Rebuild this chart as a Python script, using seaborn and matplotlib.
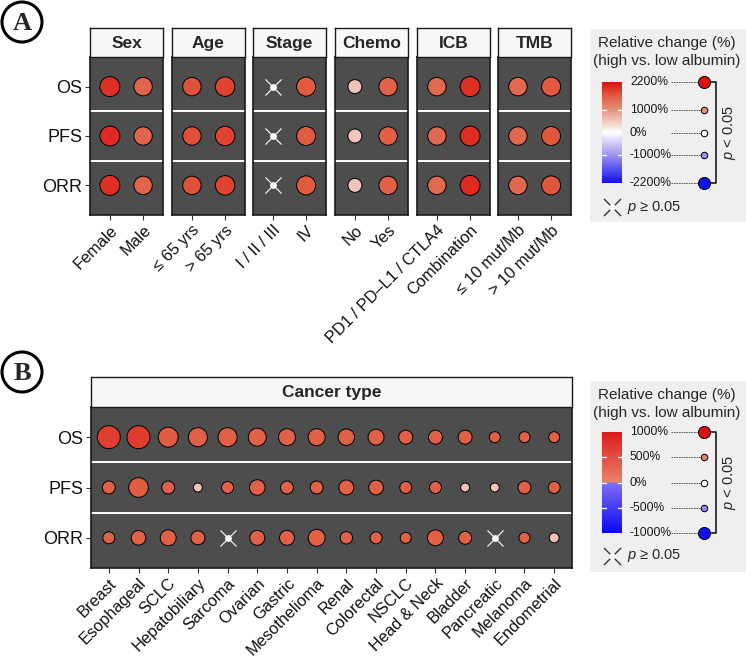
import numpy as np
import pandas as pd
import matplotlib
matplotlib.use("Agg")
import matplotlib.pyplot as plt
import seaborn as sns
from matplotlib.colors import LinearSegmentedColormap
from matplotlib.patches import Rectangle, Circle

sns.set_theme(style="white")
plt.rcParams["font.family"] = ["Liberation Sans", "DejaVu Sans"]
plt.rcParams["mathtext.fontset"] = "custom"
plt.rcParams["mathtext.it"] = "Liberation Sans:italic"
plt.rcParams["mathtext.rm"] = "Liberation Sans"

W, H = 746, 657

outcomes = ["OS", "PFS", "ORR"]

# ---- Panel A: subgroups ----
facets_a = ["Sex", "Age", "Stage", "Chemo", "ICB", "TMB"]
groups_a = [
    ["Female", "Male"],
    ["≤ 65 yrs", "> 65 yrs"],
    ["I / II / III", "IV"],
    ["No", "Yes"],
    ["PD1 / PD–L1 / CTLA4", "Combination"],
    ["≤ 10 mut/Mb", "> 10 mut/Mb"],
]
# relative change (%), nan = not significant (p >= 0.05)
change_a_os = [1950, 1500, 1700, 1790, np.nan, 1630, 540, 1520, 1450, 1950, 1450, 1630]
change_a_pfs = [1980, 1500, 1700, 1800, np.nan, 1630, 520, 1550, 1460, 1960, 1470, 1640]
change_a_orr = [1950, 1500, 1700, 1800, np.nan, 1630, 520, 1550, 1460, 1990, 1470, 1640]
# significance weight (-log10 p, capped at 10)
signif_a_os = [6.9, 5.9, 5.9, 6.6, np.nan, 6.3, 3.4, 5.9, 5.9, 6.9, 5.9, 6.3]
signif_a_pfs = [6.9, 5.9, 5.9, 6.6, np.nan, 6.3, 3.4, 5.9, 5.9, 6.9, 5.9, 6.3]
signif_a_orr = [6.9, 5.9, 5.9, 6.6, np.nan, 6.3, 3.4, 5.9, 5.9, 6.9, 5.9, 6.3]

# ---- Panel B: cancer types ----
cancers = ["Breast", "Esophageal", "SCLC", "Hepatobiliary", "Sarcoma", "Ovarian",
           "Gastric", "Mesothelioma", "Renal", "Colorectal", "NSCLC", "Head & Neck",
           "Bladder", "Pancreatic", "Melanoma", "Endometrial"]
change_b_os = [830, 840, 720, 710, 710, 700, 700, 700, 700, 700, 700, 700, 700, 700, 700, 700]
change_b_pfs = [700, 720, 700, 250, 700, 710, 700, 700, 710, 710, 700, 700, 250, 240, 700, 700]
change_b_orr = [700, 710, 710, 700, np.nan, 700, 710, 710, 700, 700, 700, 710, 700, np.nan, 700, 250]
signif_b_os = [9.2, 9.2, 6.9, 6.3, 6.3, 5.6, 5.0, 5.0, 4.7, 4.4, 3.4, 3.4, 3.4, 2.1, 2.1, 2.1]
signif_b_pfs = [2.9, 6.7, 2.9, 1.4, 2.5, 4.2, 2.9, 2.9, 3.9, 3.7, 2.5, 2.5, 1.4, 1.4, 2.9, 2.5]
signif_b_orr = [2.5, 3.7, 4.4, 3.4, np.nan, 3.9, 3.9, 5.0, 2.7, 2.5, 2.1, 4.4, 2.9, np.nan, 2.1, 1.7]

# legend levels
levels_a = [2200, 1000, 0, -1000, -2200]
levels_b = [1000, 500, 0, -500, -1000]

dot_cmap = LinearSegmentedColormap.from_list(
    "relchange", [(0.0, "#1010F0"), (0.27, "#9A90F0"), (0.5, "#FFFFFF"),
                  (0.73, "#E5907A"), (0.87, "#E05A40"), (1.0, "#DD0F0F")])
bar_cmap_b = LinearSegmentedColormap.from_list(
    "relchange_b", [(0.0, "#0808F5"), (0.499, "#8070F5"), (0.501, "#E8846C"),
                    (1.0, "#DE1A1A")])

PANEL_BG = "#4D4D4D"
S_MAX = (24 * 0.72) ** 2

fig = plt.figure(figsize=(W / 100, H / 100), dpi=100)

ov = fig.add_axes([0, 0, 1, 1])
ov.set_xlim(0, W)
ov.set_ylim(H, 0)
ov.axis("off")


def px_axes(x0, y0, x1, y1):
    return fig.add_axes([x0 / W, 1 - y1 / H, (x1 - x0) / W, (y1 - y0) / H])


def draw_facet(x0, x1, y_strip, y0, y1, labels, title, change, signif, vmax, show_y):
    df = pd.DataFrame({
        "outcome": np.repeat(outcomes, len(labels)),
        "group": labels * len(outcomes),
        "change": np.concatenate(change),
        "signif": np.concatenate(signif),
    })
    df["gx"] = pd.Categorical(df["group"], categories=labels).codes
    df["oy"] = pd.Categorical(df["outcome"], categories=outcomes).codes
    sig = df[df["change"].notna()]
    ns = df[df["change"].isna()]

    ax = px_axes(x0, y0, x1, y1)
    ax.set_facecolor(PANEL_BG)
    for yy in [0.5, 1.5]:
        ax.axhline(yy, color="white", lw=1.4, zorder=1)
    sns.scatterplot(data=sig, x="gx", y="oy", hue="change", palette=dot_cmap,
                    hue_norm=(-vmax, vmax), size="signif", sizes=(0, S_MAX),
                    size_norm=(0, 10), edgecolor="black", linewidth=0.7,
                    legend=False, ax=ax, zorder=3)
    if len(ns):
        sns.scatterplot(data=ns, x="gx", y="oy", marker="x", color="white",
                        s=135, linewidth=0.8, legend=False, ax=ax, zorder=3)
        sns.scatterplot(data=ns, x="gx", y="oy", marker="o", color="white",
                        s=24, linewidth=0, legend=False, ax=ax, zorder=4)
    n = len(labels)
    ax.set_xlim(-0.6, n - 0.4)
    ax.set_ylim(2.6, -0.6)
    ax.set_xlabel("")
    ax.set_ylabel("")
    ax.set_xticks(range(n))
    ax.set_xticklabels(labels, rotation=45, ha="right", va="top",
                       rotation_mode="anchor", fontsize=11.8, color="#111111")
    ax.tick_params(axis="x", bottom=True, length=3.5, width=0.8, color="#333333", pad=2)
    ax.set_yticks(range(3))
    if show_y:
        ax.set_yticklabels(outcomes, fontsize=13, color="#111111")
        ax.tick_params(axis="y", left=True, length=3.5, width=0.8, color="#333333", pad=2)
    else:
        ax.set_yticklabels([])
        ax.tick_params(axis="y", left=False)
    for sp in ax.spines.values():
        sp.set_color("#1A1A1A")
        sp.set_linewidth(1.2)

    st = px_axes(x0, y_strip, x1, y0)
    st.set_facecolor("#F7F7F7")
    st.set_xticks([])
    st.set_yticks([])
    for sp in st.spines.values():
        sp.set_color("#1A1A1A")
        sp.set_linewidth(1.0)
    st.text(0.5, 0.47, title, ha="center", va="center", fontsize=12.5,
            fontweight="bold", transform=st.transAxes)


def draw_legend(box_top, box_bot, title_y, bar_top, bar_bot, levels, bar_cmap, cross_y):
    vmax = levels[0]
    ov.add_patch(Rectangle((590, box_top), 156, box_bot - box_top,
                           facecolor="#EFEFEF", edgecolor="none", zorder=0))
    ov.text(667, title_y, "Relative change (%)", ha="center", va="center", fontsize=11)
    ov.text(667, title_y + 18, "(high vs. low albumin)", ha="center", va="center", fontsize=11)

    cax = px_axes(602, bar_top, 622, bar_bot)
    grad = np.linspace(vmax, -vmax, 256)[:, None]
    cax.imshow(grad, aspect="auto", cmap=bar_cmap, vmin=-vmax, vmax=vmax,
               extent=(0, 1, -vmax, vmax))
    for lev in levels[1:-1]:
        cax.plot([0, 0.22], [lev, lev], color="white", lw=1)
        cax.plot([0.78, 1], [lev, lev], color="white", lw=1)
    cax.set_xlim(0, 1)
    cax.set_ylim(-vmax, vmax)
    cax.axis("off")

    for lev in levels:
        y = bar_top + (vmax - lev) / (2 * vmax) * (bar_bot - bar_top)
        ov.text(630, y, f"{lev}%", ha="left", va="center", fontsize=8.7, color="#1A1A1A")
        ov.plot([671, 703], [y, y], color="#444444", lw=0.6, ls=(0, (2, 1)), zorder=2)
        big = abs(lev) == vmax
        ov.scatter([704], [y], s=75 if big else 22, color=dot_cmap(0.5 + lev / vmax / 2),
                   edgecolor="black", linewidth=0.7, zorder=3)

    ov.plot([711, 716, 716, 711], [bar_top, bar_top, bar_bot, bar_bot],
            color="#1A1A1A", lw=1.2)
    ov.text(729, (bar_top + bar_bot) / 2, "$p$ < 0.05", rotation=90,
            ha="center", va="center", fontsize=10.5)

    ov.scatter([612], [cross_y], marker="x", s=150, color="#333333", linewidth=1.0, zorder=3)
    ov.scatter([612], [cross_y], marker="o", s=22, color="white", linewidth=0, zorder=4)
    ov.text(627, cross_y, "$p$ ≥ 0.05", ha="left", va="center", fontsize=10.5)


def panel_letter(cx, cy, letter):
    ov.add_patch(Circle((cx, cy), 20, facecolor="white", edgecolor="black", lw=2.2))
    ov.text(cx, cy + 1, letter, ha="center", va="center", fontsize=19,
            fontweight="bold", family="Liberation Serif")


# ---- draw panel A ----
lefts_a = [90, 172, 253, 335, 417, 498]
for k, (title, labels) in enumerate(zip(facets_a, groups_a)):
    sl = slice(2 * k, 2 * k + 2)
    draw_facet(lefts_a[k], lefts_a[k] + 73, 28, 57, 215, labels, title,
               [change_a_os[sl], change_a_pfs[sl], change_a_orr[sl]],
               [signif_a_os[sl], signif_a_pfs[sl], signif_a_orr[sl]],
               2200, k == 0)

# ---- draw panel B ----
draw_facet(91, 572, 377, 407, 568, cancers, "Cancer type",
           [change_b_os, change_b_pfs, change_b_orr],
           [signif_b_os, signif_b_pfs, signif_b_orr], 1000, True)

draw_legend(29, 222, 43, 82, 183, levels_a, dot_cmap, 207)
draw_legend(381, 572, 395, 432, 533, levels_b, bar_cmap_b, 556)

panel_letter(22, 22, "A")
panel_letter(22, 372, "B")

fig.savefig("out.png", dpi=100)
